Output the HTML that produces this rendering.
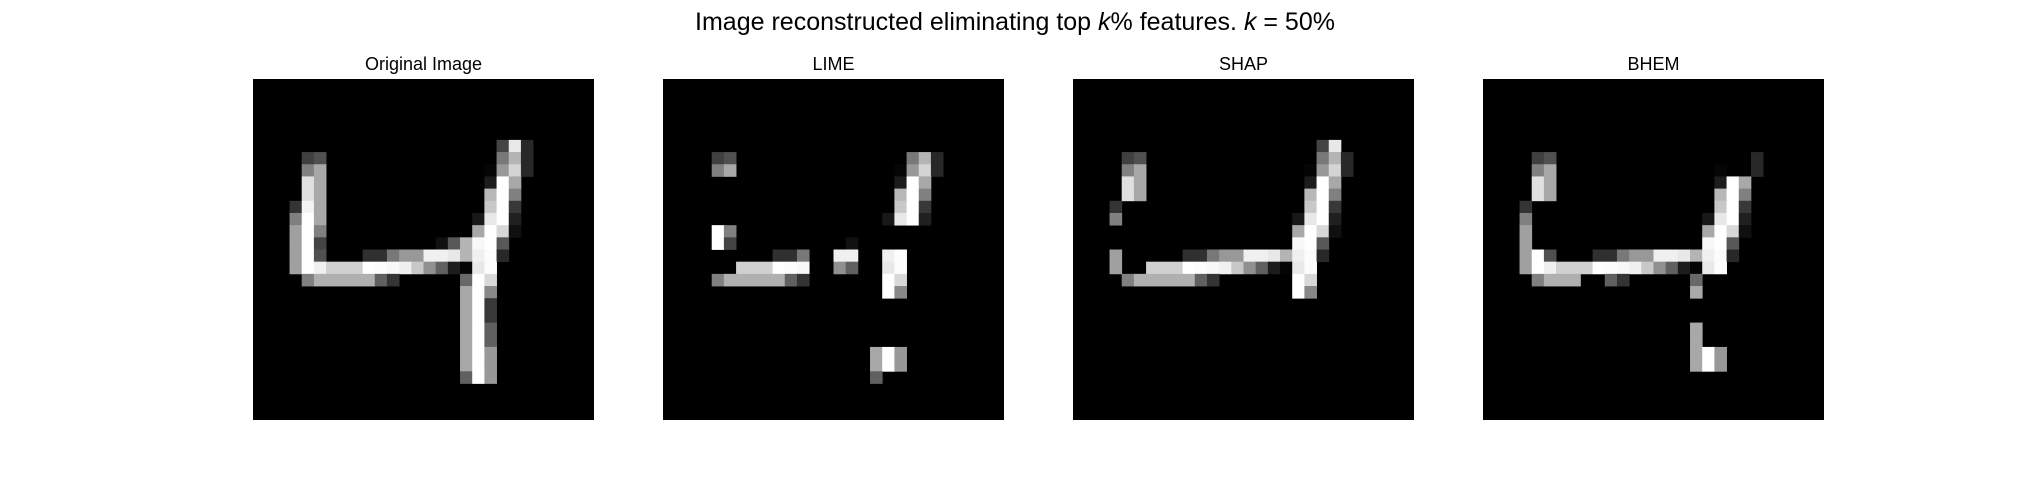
<!DOCTYPE html>
<html><head><meta charset="utf-8">
<style>
html,body{margin:0;padding:0;background:#fff;}
svg{display:block;}
text{font-family:"Liberation Sans",sans-serif;fill:#000;}
</style></head>
<body>
<svg id="fig" width="2026" height="495" viewBox="0 0 2026 495">
<text x="1015" y="30" font-size="25" text-anchor="middle">Image reconstructed eliminating top <tspan font-style="italic">k</tspan>% features. <tspan font-style="italic">k</tspan> = 50%</text>
</svg>
<script>
// original image: [row, col, gray value]
const originalPixels = [
[5,20,0x44],[5,21,0xe8],[5,22,0x28],
[6,4,0x40],[6,5,0x50],[6,20,0x78],[6,21,0xb4],[6,22,0x28],
[7,4,0x80],[7,5,0xa8],[7,19,0x05],[7,20,0x98],[7,21,0xd4],[7,22,0x28],
[8,4,0xe0],[8,5,0xa8],[8,19,0x1c],[8,20,0xff],[8,21,0xa8],
[9,4,0xe0],[9,5,0xa8],[9,19,0xb8],[9,20,0xff],[9,21,0x80],
[10,3,0x34],[10,4,0xf4],[10,5,0xa8],[10,19,0xc8],[10,20,0xff],[10,21,0x38],
[11,3,0x80],[11,4,0xff],[11,5,0xa8],[11,18,0x18],[11,19,0xe8],[11,20,0xff],[11,21,0x20],
[12,3,0xa0],[12,4,0xff],[12,5,0x80],[12,18,0xa8],[12,19,0xff],[12,20,0xd8],[12,21,0x10],
[13,3,0xa0],[13,4,0xff],[13,5,0x44],[13,15,0x10],[13,16,0x58],[13,17,0xb4],[13,18,0xf8],[13,19,0xff],[13,20,0x58],
[14,3,0xa0],[14,4,0xff],[14,5,0x50],[14,9,0x30],[14,10,0x30],[14,11,0x78],[14,12,0x98],[14,13,0x98],[14,14,0xf0],[14,15,0xf0],[14,16,0xe8],[14,17,0xb4],[14,18,0xf0],[14,19,0xfc],[14,20,0x28],
[15,3,0xa0],[15,4,0xff],[15,5,0xf0],[15,6,0xd0],[15,7,0xd0],[15,8,0xd0],[15,9,0xff],[15,10,0xfc],[15,11,0xf8],[15,12,0xf0],[15,13,0xc8],[15,14,0x90],[15,15,0x60],[15,16,0x1c],[15,17,0x04],[15,18,0xe8],[15,19,0xfc],
[16,4,0x80],[16,5,0xb0],[16,6,0xb0],[16,7,0xb0],[16,8,0xb0],[16,9,0xb0],[16,10,0x60],[16,11,0x34],[16,17,0x68],[16,18,0xff],[16,19,0xd8],
[17,17,0xa8],[17,18,0xff],[17,19,0x88],
[18,17,0xa8],[18,18,0xff],[18,19,0x38],
[19,17,0xa8],[19,18,0xff],[19,19,0x38],
[20,17,0xa8],[20,18,0xff],[20,19,0x60],
[21,17,0xa8],[21,18,0xff],[21,19,0x60],
[22,17,0xa8],[22,18,0xff],[22,19,0x98],
[23,17,0xa8],[23,18,0xff],[23,19,0x98],
[24,17,0x60],[24,18,0xff],[24,19,0x98]
];
// kept pixels per method: "row:col,col,..."
const limeKept = ["6:4,5,20,21,22","7:4,5,19,20,21,22","8:19,20,21","9:19,20,21","10:19,20,21","11:18,19,20,21","12:4,5","13:4,5,15","14:9,10,11,14,15,18,19","15:6,7,8,9,10,11,14,15,18,19","16:4,5,6,7,8,9,10,11,18,19","17:18,19","22:17,18,19","23:17,18,19","24:17"];
const shapKept = ["5:20,21","6:4,5,20,21,22","7:4,5,19,20,21,22","8:4,5,19,20,21","9:4,5,19,20,21","10:3,19,20,21","11:3,18,19,20,21","12:18,19,20,21","13:18,19,20","14:3,9,10,11,12,13,14,15,16,17,18,19,20","15:3,6,7,8,9,10,11,12,13,14,15,16,17,18,19","16:4,5,6,7,8,9,10,11,18,19","17:18,19"];
const bhemKept = ["6:4,5,22","7:4,5,19,22","8:4,5,19,20,21","9:4,5,19,20,21","10:3,19,20,21","11:3,18,19,20,21","12:3,18,19,20,21","13:3,18,19,20","14:3,4,5,9,10,11,12,13,14,15,16,17,18,19,20","15:3,4,5,6,7,8,9,10,11,12,13,14,15,16,17,18,19","16:4,5,6,7,10,11,17","17:17","20:17","21:17","22:17,18,19","23:17,18,19"];
const panelTitles = ["Original Image","LIME","SHAP","BHEM"];

const NS = "http://www.w3.org/2000/svg";
const svg = document.getElementById('fig');
const PANEL_LEFT = 253, PANEL_STEP = 410, PANEL_TOP = 79, PANEL_SIZE = 341, N = 28;
const cell = PANEL_SIZE / N;
const xScale = (p, c) => PANEL_LEFT + p * PANEL_STEP + c * cell;
const yScale = r => PANEL_TOP + r * cell;

function parseKept(list){
  const s = new Set();
  list.forEach(e => { const [r, cs] = e.split(':'); cs.split(',').forEach(c => s.add(r + ',' + c)); });
  return s;
}
const keeps = [null, parseKept(limeKept), parseKept(shapKept), parseKept(bhemKept)];
const names = ['original','lime','shap','bhem'];

panelTitles.forEach((t, p) => {
  const g = document.createElementNS(NS, 'g');
  
  
  const title = document.createElementNS(NS, 'text');
  
  
  title.setAttribute('x', xScale(p, 0) + PANEL_SIZE / 2);
  title.setAttribute('y', 70);
  title.setAttribute('font-size', 18);
  title.setAttribute('text-anchor', 'middle');
  title.textContent = t;
  g.appendChild(title);
  const bg = document.createElementNS(NS, 'rect');
  
  
  bg.setAttribute('x', xScale(p, 0));
  bg.setAttribute('y', PANEL_TOP);
  bg.setAttribute('width', PANEL_SIZE);
  bg.setAttribute('height', PANEL_SIZE);
  bg.setAttribute('fill', '#000');
  g.appendChild(bg);
  originalPixels.forEach(([r, c, v]) => {
    if (keeps[p] && !keeps[p].has(r + ',' + c)) return;
    const px = document.createElementNS(NS, 'rect');
    
    
    px.setAttribute('x', xScale(p, c).toFixed(2));
    px.setAttribute('y', yScale(r).toFixed(2));
    px.setAttribute('width', (cell + 0.4).toFixed(2));
    px.setAttribute('height', (cell + 0.4).toFixed(2));
    px.setAttribute('fill', `rgb(${v},${v},${v})`);
    g.appendChild(px);
  });
  svg.appendChild(g);
});
</script>
</body></html>
